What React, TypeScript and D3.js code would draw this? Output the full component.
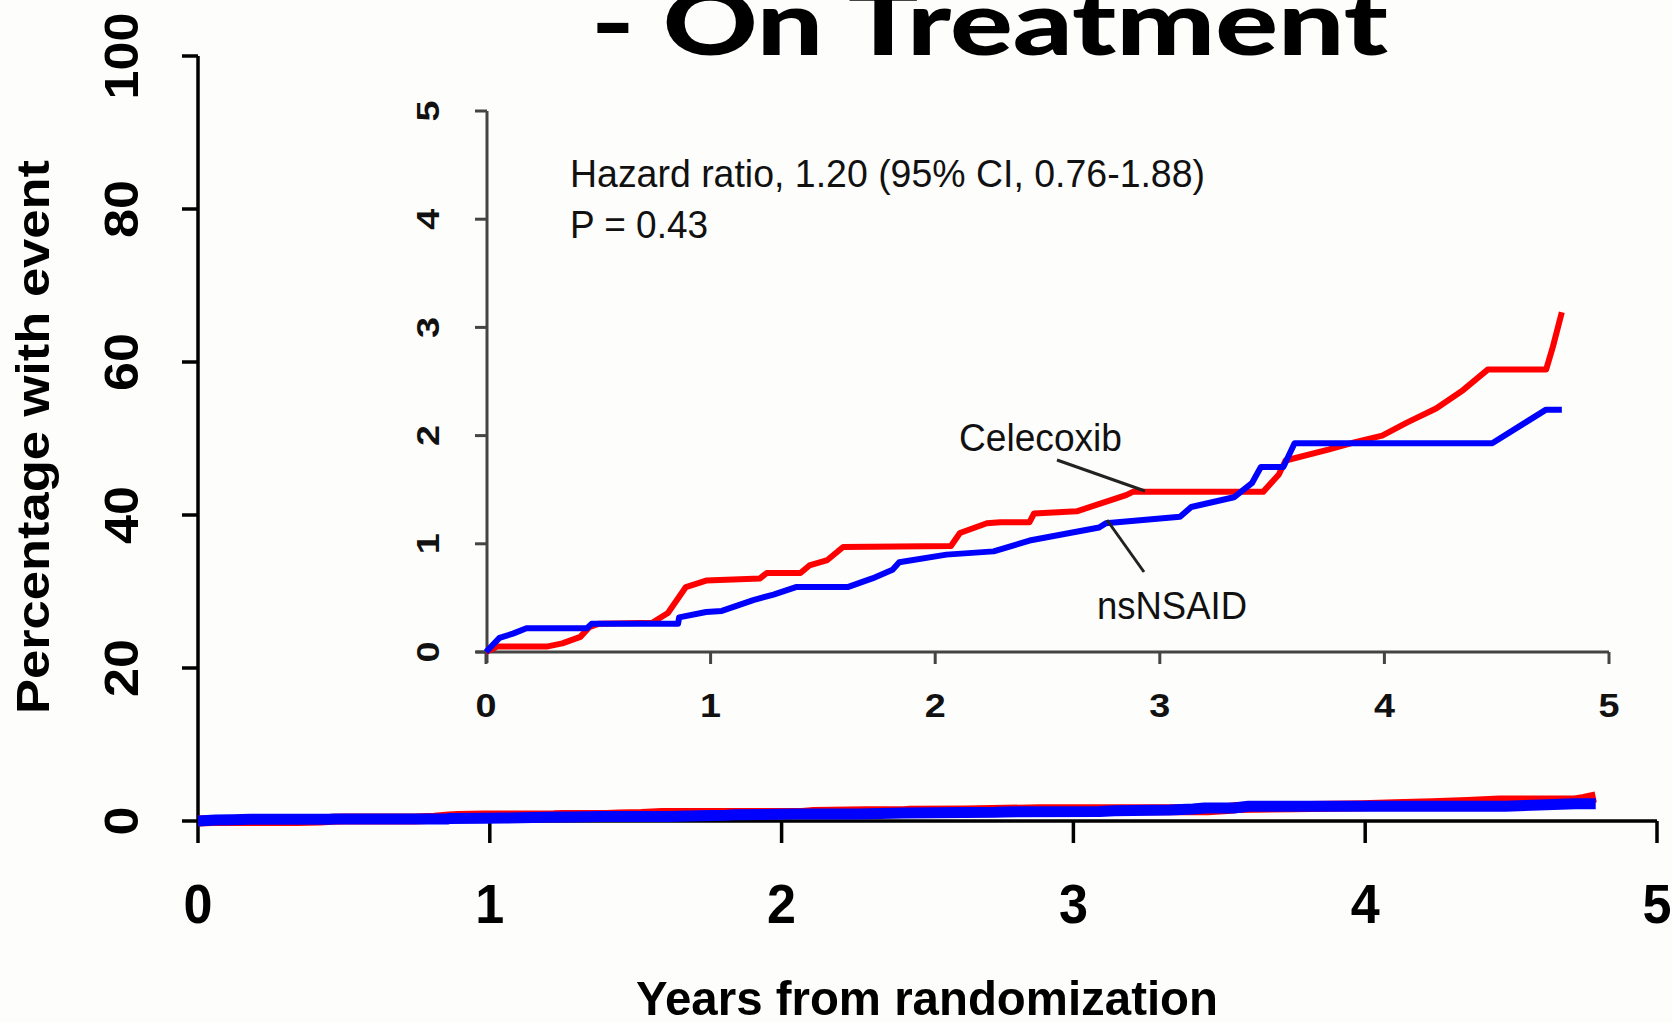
import React from 'react';
import * as d3 from 'd3';

const W = 1672;
const H = 1023;

const yearTicks = [0, 1, 2, 3, 4, 5];
const mainPctTicks = [0, 20, 40, 60, 80, 100];
const insetPctTicks = [0, 1, 2, 3, 4, 5];

const celecoxibYears = [0, 0.05, 0.27, 0.34, 0.42, 0.46, 0.5, 0.74, 0.81, 0.86, 0.89, 0.98, 1.22, 1.25, 1.4, 1.44, 1.52, 1.59, 2.07, 2.11, 2.23, 2.29, 2.42, 2.44, 2.63, 2.85, 2.88, 3.46, 3.53, 3.56, 3.75, 3.87, 3.99, 4.1, 4.23, 4.35, 4.46, 4.72, 4.75, 4.79];
const celecoxibPct = [0, 0.05, 0.05, 0.08, 0.14, 0.23, 0.26, 0.27, 0.36, 0.51, 0.6, 0.66, 0.68, 0.73, 0.73, 0.8, 0.85, 0.97, 0.98, 1.1, 1.19, 1.2, 1.2, 1.28, 1.3, 1.45, 1.48, 1.48, 1.64, 1.77, 1.87, 1.94, 2.0, 2.12, 2.25, 2.42, 2.61, 2.61, 2.82, 3.14];

const nsnsaidYears = [0, 0.06, 0.12, 0.18, 0.45, 0.47, 0.855, 0.86, 0.98, 1.05, 1.19, 1.28, 1.38, 1.61, 1.72, 1.81, 1.84, 2.05, 2.26, 2.42, 2.73, 2.76, 3.09, 3.14, 3.33, 3.41, 3.45, 3.55, 3.6, 4.48, 4.72, 4.79];
const nsnsaidPct = [0, 0.13, 0.17, 0.22, 0.22, 0.26, 0.26, 0.32, 0.37, 0.38, 0.48, 0.53, 0.6, 0.6, 0.68, 0.76, 0.83, 0.9, 0.93, 1.03, 1.15, 1.19, 1.25, 1.34, 1.43, 1.56, 1.71, 1.71, 1.93, 1.93, 2.24, 2.24];

const titleText = '- On Treatment';
const yAxisTitle = 'Percentage with event';
const xAxisTitle = 'Years from randomization';
const hazardText = 'Hazard ratio, 1.20 (95% CI, 0.76-1.88)';
const pText = 'P = 0.43';
const seriesNames = ['Celecoxib', 'nsNSAID'];
const seriesColors = ['#ff0000', '#0000ff'];

const SANS = '"Liberation Sans", Arial, Helvetica, sans-serif';

type Pt = [number, number];

export default function App() {
  const mainX = d3.scaleLinear().domain([0, 5]).range([198, 1657]);
  const mainY = d3.scaleLinear().domain([0, 100]).range([821, 56]);
  const inX = d3.scaleLinear().domain([0, 5]).range([486, 1609]);
  const inY = d3.scaleLinear().domain([0, 5]).range([652, 111]);

  const series: Pt[][] = [
    celecoxibYears.map((t, i) => [t, celecoxibPct[i]] as Pt),
    nsnsaidYears.map((t, i) => [t, nsnsaidPct[i]] as Pt),
  ];

  const mainLine = d3
    .line<Pt>()
    .x((d) => mainX(d[0]))
    .y((d) => mainY(d[1]));
  const inLine = d3
    .line<Pt>()
    .x((d) => inX(d[0]))
    .y((d) => inY(d[1]));

  return (
    <svg
      width={W}
      height={H}
      viewBox={`0 0 ${W} ${H}`}
      style={{ position: 'absolute', left: 0, top: 0, display: 'block' }}
    >
      <rect x={0} y={0} width={W} height={H} fill="#fdfdfb" />

      {/* Title (cut off at top) */}
      <text
        x={591}
        y={55}
        fontFamily='Lato, "Open Sans", sans-serif'
        fontWeight={900}
        fontSize={90}
        textLength={797}
        lengthAdjust="spacingAndGlyphs"
        fill="#000"
      >
        {titleText}
      </text>

      {/* Main axes */}
      <line x1={198} x2={198} y1={mainY(100)} y2={821} stroke="#000" strokeWidth={3.5} />
      <line x1={198} x2={1657} y1={821} y2={821} stroke="#000" strokeWidth={3.5} />
      {mainPctTicks.map((v) => (
        <g key={'my' + v}>
          <line x1={182} x2={198} y1={mainY(v)} y2={mainY(v)} stroke="#000" strokeWidth={3.5} />
          <text
            transform={`translate(138,${mainY(v)}) rotate(-90)`}
            textAnchor="middle"
            fontFamily={SANS}
            fontWeight={700}
            fontSize={48}
            textLength={String(v).length * 29}
            lengthAdjust="spacingAndGlyphs"
            fill="#000"
          >
            {v}
          </text>
        </g>
      ))}
      {yearTicks.map((v) => (
        <g key={'mx' + v}>
          <line x1={mainX(v)} x2={mainX(v)} y1={821} y2={843} stroke="#000" strokeWidth={3.5} />
          <text
            x={mainX(v)}
            y={923}
            textAnchor="middle"
            fontFamily={SANS}
            fontWeight={700}
            fontSize={56}
            textLength={29}
            lengthAdjust="spacingAndGlyphs"
            fill="#000"
          >
            {v}
          </text>
        </g>
      ))}
      <text
        transform="translate(49,437) rotate(-90)"
        textAnchor="middle"
        fontFamily={SANS}
        fontWeight={700}
        fontSize={46}
        textLength={554}
        lengthAdjust="spacingAndGlyphs"
        fill="#000"
      >
        {yAxisTitle}
      </text>
      <text
        x={927}
        y={1015}
        textAnchor="middle"
        fontFamily={SANS}
        fontWeight={700}
        fontSize={49}
        textLength={582}
        lengthAdjust="spacingAndGlyphs"
        fill="#000"
      >
        {xAxisTitle}
      </text>

      {/* Main curves */}
      {series.map((s, i) => (
        <path
          key={'ml' + i}
          d={mainLine(s) || ''}
          fill="none"
          stroke={seriesColors[i]}
          strokeWidth={11}
          strokeLinejoin="round"
        />
      ))}

      {/* Inset axes */}
      <line x1={487} x2={487} y1={inY(5)} y2={663} stroke="#444" strokeWidth={3} />
      <line x1={476} x2={inX(5)} y1={652} y2={652} stroke="#444" strokeWidth={3} />
      {insetPctTicks.map((v) => (
        <g key={'iy' + v}>
          <line x1={475} x2={487} y1={inY(v)} y2={inY(v)} stroke="#444" strokeWidth={3} />
          <text
            transform={`translate(439,${inY(v)}) rotate(-90)`}
            textAnchor="middle"
            fontFamily={SANS}
            fontWeight={700}
            fontSize={31}
            textLength={21}
            lengthAdjust="spacingAndGlyphs"
            fill="#111"
          >
            {v}
          </text>
        </g>
      ))}
      {yearTicks.map((v) => (
        <g key={'ix' + v}>
          <line x1={inX(v)} x2={inX(v)} y1={652} y2={664} stroke="#444" strokeWidth={3} />
          <text
            x={inX(v)}
            y={717}
            textAnchor="middle"
            fontFamily={SANS}
            fontWeight={700}
            fontSize={33}
            textLength={21}
            lengthAdjust="spacingAndGlyphs"
            fill="#111"
          >
            {v}
          </text>
        </g>
      ))}

      {/* Inset curves */}
      {series.map((s, i) => (
        <path
          key={'il' + i}
          d={inLine(s) || ''}
          fill="none"
          stroke={seriesColors[i]}
          strokeWidth={6}
          strokeLinejoin="round"
        />
      ))}

      {/* Annotations */}
      <text x={570} y={187} fontFamily={SANS} fontSize={38} textLength={635} lengthAdjust="spacingAndGlyphs" fill="#111">
        {hazardText}
      </text>
      <text x={570} y={238} fontFamily={SANS} fontSize={38} textLength={138} lengthAdjust="spacingAndGlyphs" fill="#111">
        {pText}
      </text>
      <text x={959} y={451} fontFamily={SANS} fontSize={38} textLength={163} lengthAdjust="spacingAndGlyphs" fill="#111">
        {seriesNames[0]}
      </text>
      <text x={1097} y={619} fontFamily={SANS} fontSize={38} textLength={150} lengthAdjust="spacingAndGlyphs" fill="#111">
        {seriesNames[1]}
      </text>
      <line x1={1057} y1={460} x2={1145} y2={491} stroke="#222" strokeWidth={3} />
      <line x1={1107} y1={520} x2={1144} y2={572} stroke="#222" strokeWidth={3} />
    </svg>
  );
}
